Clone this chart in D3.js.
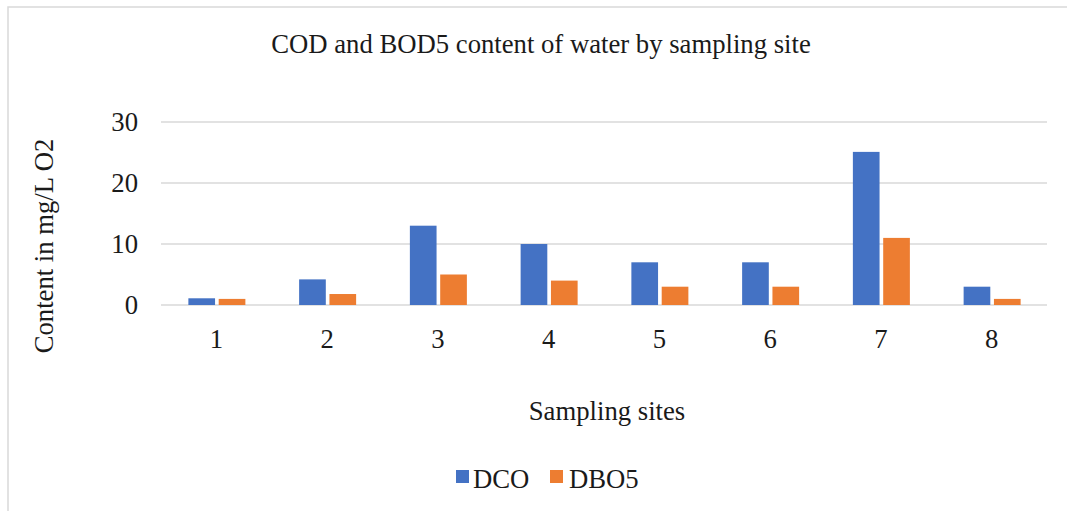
<!DOCTYPE html>
<html><head><meta charset="utf-8">
<script src="https://cdn.jsdelivr.net/npm/d3@7"></script>
<style>body{margin:0;background:#fff}svg{display:block}</style>
</head><body>
<svg id="c" width="1067" height="511"></svg>
<script>
const categories = ["1","2","3","4","5","6","7","8"];
const seriesNames = ["DCO","DBO5"];
const dco = [1.1, 4.2, 13, 10, 7, 7, 25.1, 3];
const dbo5 = [1.0, 1.8, 5, 4, 3, 3, 11, 1];
const yTicks = [0,10,20,30];
const colors = ["#4472C4","#ED7D31"];
const title = "COD and BOD5 content of water by sampling site";
const yTitle = "Content in mg/L O2";
const xTitle = "Sampling sites";

const svg = d3.select("#c");
const font = "'Liberation Serif','Times New Roman',serif";
const fs = 26.7;
svg.append("rect").attr("x",8).attr("y",7).attr("width",1100).attr("height",600)
  .attr("fill","#fff").attr("stroke","#d9d9d9").attr("stroke-width",1.5);

const L=161, R=1047, T=122, B=305;
const x = d3.scaleBand().domain(categories).range([L,R]);
const y = d3.scaleLinear().domain([0,30]).range([B,T]);
const xs = d3.scaleBand().domain(seriesNames).range([-28,29]).paddingInner(0.12);

svg.append("g").selectAll("line").data(yTicks).join("line")
  .attr("x1",L).attr("x2",R).attr("y1",d=>y(d)).attr("y2",d=>y(d))
  .attr("stroke","#d9d9d9").attr("stroke-width",1.5);

const data = categories.map((c,i)=>({c, vals:[dco[i],dbo5[i]]}));
svg.append("g").selectAll("g").data(data).join("g")
  .attr("transform",d=>`translate(${x(d.c)+x.bandwidth()/2},0)`)
  .selectAll("rect").data(d=>d.vals.map((v,j)=>({v,s:seriesNames[j],j})))
  .join("rect")
  .attr("x",d=>xs(d.s)).attr("width",xs.bandwidth())
  .attr("y",d=>y(d.v)).attr("height",d=>B-y(d.v))
  .attr("fill",d=>colors[d.j]);

// y tick labels
svg.append("g").selectAll("text").data(yTicks).join("text")
  .attr("x",138).attr("y",d=>y(d)).attr("dy","0.35em").attr("text-anchor","end")
  .attr("font-family",font).attr("font-size",fs).attr("fill","#1a1a1a").text(d=>d);
// x labels
svg.append("g").selectAll("text").data(categories).join("text")
  .attr("x",d=>x(d)+x.bandwidth()/2).attr("y",339).attr("dy","0.35em").attr("text-anchor","middle")
  .attr("font-family",font).attr("font-size",fs).attr("fill","#1a1a1a").text(d=>d);

svg.append("text").attr("x",541).attr("y",44).attr("dy","0.35em").attr("text-anchor","middle")
  .attr("font-family",font).attr("font-size",fs).attr("fill","#1a1a1a").text(title);
svg.append("text").attr("transform","translate(44,246) rotate(-90)").attr("dy","0.35em")
  .attr("text-anchor","middle").attr("font-family",font).attr("font-size",fs).attr("fill","#1a1a1a").text(yTitle);
svg.append("text").attr("x",607).attr("y",411).attr("dy","0.35em").attr("text-anchor","middle")
  .attr("font-family",font).attr("font-size",fs).attr("fill","#1a1a1a").text(xTitle);

// legend
const leg = [{n:"DCO",x:456,tx:473},{n:"DBO5",x:550,tx:569}];
const lg = svg.append("g");
leg.forEach((d,i)=>{
  lg.append("rect").attr("x",d.x).attr("y",470).attr("width",13).attr("height",13).attr("fill",colors[i]);
  lg.append("text").attr("x",d.tx).attr("y",479).attr("dy","0.35em").attr("font-family",font)
    .attr("font-size",fs).attr("fill","#1a1a1a").text(d.n);
});
</script>
</body></html>
